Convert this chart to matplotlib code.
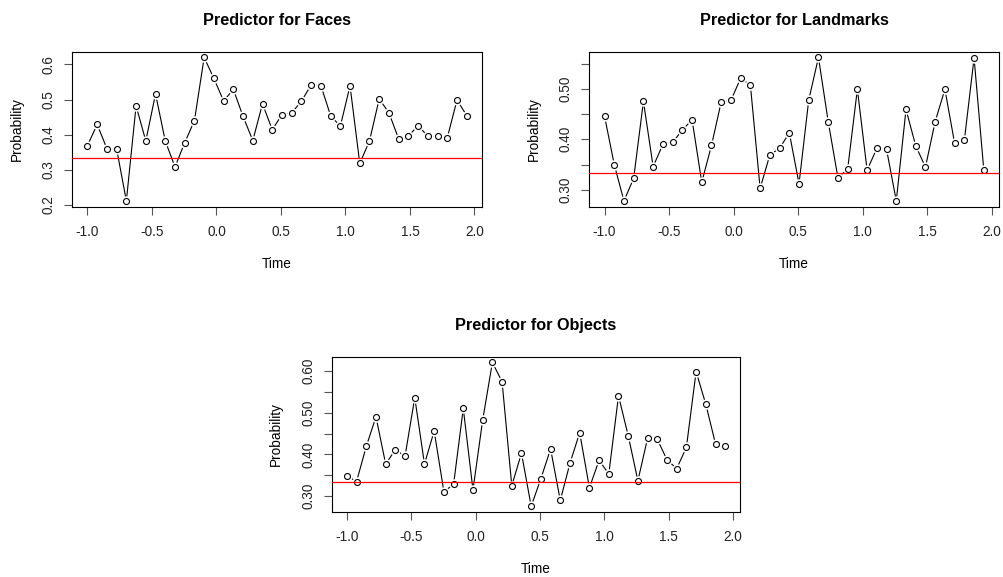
import numpy as np
import matplotlib.pyplot as plt
from matplotlib.ticker import MultipleLocator, FixedLocator, FuncFormatter

plt.rcParams['font.family'] = ['Liberation Sans', 'DejaVu Sans']
plt.rcParams['axes.unicode_minus'] = False

# time grid of the predictor output
time = np.linspace(-1.0, 1.94, 40)
chance = 1 / 3

faces = [0.369, 0.429, 0.360, 0.359, 0.211, 0.482, 0.382, 0.516, 0.382, 0.308,
         0.377, 0.440, 0.620, 0.560, 0.496, 0.529, 0.452, 0.383, 0.488, 0.414,
         0.457, 0.462, 0.495, 0.542, 0.540, 0.454, 0.424, 0.539, 0.318, 0.382,
         0.502, 0.462, 0.388, 0.396, 0.426, 0.395, 0.395, 0.391, 0.499, 0.454]

landmarks = [0.446, 0.350, 0.278, 0.323, 0.475, 0.346, 0.390, 0.394, 0.418, 0.439,
             0.315, 0.388, 0.474, 0.477, 0.521, 0.507, 0.303, 0.369, 0.382, 0.413,
             0.312, 0.478, 0.562, 0.435, 0.324, 0.341, 0.499, 0.339, 0.382, 0.380,
             0.278, 0.459, 0.387, 0.345, 0.435, 0.499, 0.392, 0.398, 0.561, 0.339]

objects = [0.349, 0.335, 0.419, 0.490, 0.377, 0.411, 0.396, 0.536, 0.377, 0.456,
           0.311, 0.328, 0.510, 0.315, 0.482, 0.620, 0.574, 0.325, 0.403, 0.276,
           0.342, 0.413, 0.290, 0.379, 0.452, 0.320, 0.386, 0.353, 0.540, 0.445,
           0.337, 0.439, 0.436, 0.387, 0.366, 0.417, 0.598, 0.520, 0.425, 0.419]

fig = plt.figure(figsize=(10.04, 5.77), dpi=100)
ax1 = fig.add_axes([0.072, 0.6418, 0.408, 0.2686])
ax2 = fig.add_axes([0.587, 0.6418, 0.408, 0.2686])
ax3 = fig.add_axes([0.3304, 0.1127, 0.407, 0.2691])


def r_lim(v):
    lo, hi = min(v), max(v)
    d = (hi - lo) * 0.04
    return lo - d, hi + d


def panel(ax, y, title, ystep, labelled):
    # type="b": line with gaps, open circles on top
    ax.plot(time, y, color='black', lw=0.8, zorder=1)
    ax.plot(time, y, 'o', ms=7.5, mfc='white', mec='white', mew=0, zorder=2)
    ax.plot(time, y, 'o', ms=4.3, mfc='none', mec='black', mew=0.8, zorder=3)
    ax.axhline(chance, color='red', lw=0.9, zorder=4)

    ax.set_xlim(r_lim(time))
    ax.set_ylim(r_lim(y))
    ax.xaxis.set_major_locator(FixedLocator([-1.0, -0.5, 0.0, 0.5, 1.0, 1.5, 2.0]))
    ax.xaxis.set_major_formatter(FuncFormatter(lambda v, p: '%.1f' % v))
    ax.yaxis.set_major_locator(MultipleLocator(ystep))
    fmt = '%.1f' if ystep == 0.1 else '%.2f'
    ax.yaxis.set_major_formatter(FuncFormatter(
        lambda v, p: fmt % v if any(abs(v - l) < 1e-6 for l in labelled) else ''))

    for s in ax.spines.values():
        s.set_linewidth(0.8)
    ax.tick_params(direction='out', length=5.5, width=0.8, labelsize=9.8,
                   color='#555555', labelcolor='#222222')
    ax.tick_params(axis='x', pad=7.5)
    ax.tick_params(axis='y', pad=6.5)
    for lab in ax.get_yticklabels():
        lab.set_rotation(90)
        lab.set_va('center')

    ax.set_title(title, fontsize=11.7, fontweight='bold', pad=19)
    ax.set_xlabel('Time', fontsize=9.8, labelpad=13)
    ax.set_ylabel('Probability', fontsize=9.8, labelpad=13)


panel(ax1, faces, 'Predictor for Faces', 0.1, [0.2, 0.3, 0.4, 0.5, 0.6])
panel(ax2, landmarks, 'Predictor for Landmarks', 0.05, [0.3, 0.4, 0.5])
panel(ax3, objects, 'Predictor for Objects', 0.05, [0.3, 0.4, 0.5, 0.6])

fig.savefig('out.png', dpi=100)
